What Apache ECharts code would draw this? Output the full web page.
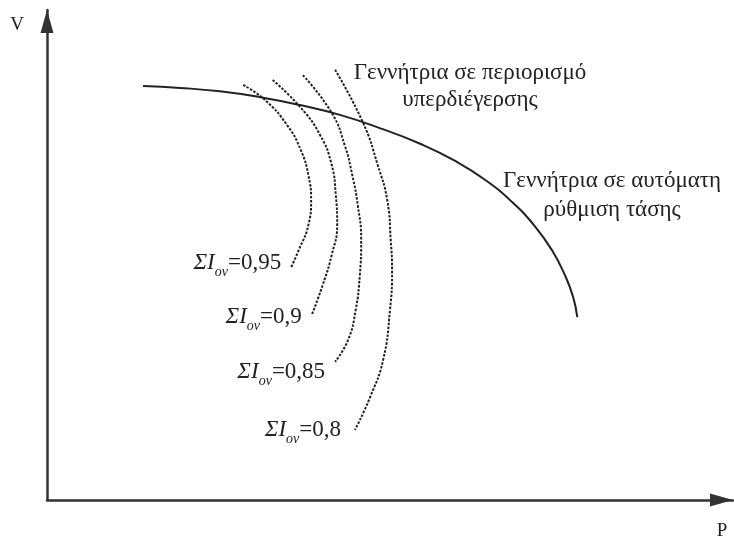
<!DOCTYPE html>
<html>
<head>
<meta charset="utf-8">
<script src="https://cdn.jsdelivr.net/npm/echarts@6/dist/echarts.min.js"></script>
<style>
  html, body { margin: 0; padding: 0; background: #ffffff; }
  #chart { width: 734px; height: 543px; }
</style>
</head>
<body>
<div id="chart"></div>
<script>
// Generator under automatic voltage regulation (V–P characteristic)
const avrP = [14.0, 19.4, 25.2, 31.1, 36.9, 42.7, 48.5, 54.4, 59.5, 63.9, 67.8, 71.1, 73.6, 75.5, 76.7, 77.3];
const avrV = [84.5, 84.1, 83.4, 82.2, 80.6, 78.6, 75.9, 72.7, 69.2, 65.3, 60.8, 55.9, 51.0, 45.9, 41.4, 37.3];

// Generator at over-excitation limit, one curve per total current level
const limitLevels = ['0,95', '0,9', '0,85', '0,8'];
const limitP095 = [28.6, 31.8, 35.0, 37.0, 38.1, 38.5, 38.1, 36.7, 35.6];
const limitV095 = [84.7, 81.6, 76.5, 71.4, 66.3, 61.2, 56.1, 51.0, 47.5];
const limitP090 = [32.9, 36.9, 39.8, 41.5, 42.1, 42.3, 41.5, 40.2, 38.6];
const limitV090 = [85.7, 80.2, 74.5, 68.4, 62.2, 56.1, 50.0, 43.9, 37.8];
const limitP085 = [37.3, 41.5, 43.4, 44.5, 45.3, 45.8, 45.6, 45.0, 43.9, 42.0];
const limitV085 = [86.7, 79.0, 72.4, 66.3, 60.2, 53.1, 45.9, 38.8, 32.7, 28.2];
const limitP080 = [42.0, 46.1, 48.2, 49.6, 50.1, 50.3, 50.0, 49.0, 47.1, 44.9];
const limitV080 = [87.8, 76.9, 68.4, 61.2, 53.1, 46.9, 38.8, 28.6, 21.0, 14.3];

const limitP = [limitP095, limitP090, limitP085, limitP080];
const limitV = [limitV095, limitV090, limitV085, limitV080];

// offset (px) of each ΣIον label relative to its curve's end
const labelNudge = [[0, -4], [0, 2], [0, 10], [-4, 0]];

const SERIF = '"Liberation Serif", "DejaVu Serif", serif';
const INK = '#222222';

const zip = (xs, ys) => xs.map((x, i) => [x, ys[i]]);

const limitSeries = limitLevels.map((lvl, k) => {
  const pts = zip(limitP[k], limitV[k]);
  const last = pts[pts.length - 1];
  return {
    type: 'line',
    name: 'ΣIον=' + lvl,
    data: pts,
    smooth: 0.5,
    showSymbol: false,
    silent: true,
    lineStyle: { color: INK, width: 2, type: [2.5, 1.5] },
    markPoint: {
      symbol: 'circle',
      symbolSize: 0,
      silent: true,
      data: [{ coord: last }],
      label: {
        show: true,
        position: 'left',
        distance: 10,
        offset: labelNudge[k],
        formatter: '{a|ΣI}{b|ον}{c|=' + lvl + '}',
        rich: {
          a: { fontFamily: SERIF, fontStyle: 'italic', fontSize: 23, color: INK, lineHeight: 33, verticalAlign: 'middle' },
          b: { fontFamily: SERIF, fontStyle: 'italic', fontSize: 14, color: INK, lineHeight: 33, verticalAlign: 'bottom' },
          c: { fontFamily: SERIF, fontSize: 23, color: INK, lineHeight: 33, verticalAlign: 'middle' }
        }
      }
    }
  };
});

// axis with a filled arrowhead whose tip sits on the axis end
const axisLine = {
  show: true,
  symbol: ['none', 'triangle'],
  symbolSize: [13, 23],
  symbolOffset: [0, -11.5],
  lineStyle: { color: '#333333', width: 2.5 }
};

const chart = echarts.init(document.getElementById('chart'), null, { renderer: 'canvas' });
chart.setOption({
  backgroundColor: '#ffffff',
  animation: false,
  grid: { left: 47, right: 1, top: 10, bottom: 43 },
  xAxis: {
    type: 'value', min: 0, max: 100,
    name: 'P', nameLocation: 'end', nameGap: -11,
    nameTextStyle: { fontFamily: SERIF, fontSize: 19, color: INK, align: 'center', verticalAlign: 'top', padding: [22, 0, 0, 0] },
    axisLine: axisLine,
    axisTick: { show: false }, axisLabel: { show: false }, splitLine: { show: false }
  },
  yAxis: {
    type: 'value', min: 0, max: 100,
    name: 'V', nameLocation: 'end', nameGap: -15,
    nameTextStyle: { fontFamily: SERIF, fontSize: 19, color: INK, align: 'right', verticalAlign: 'middle', padding: [0, 23, 0, 0] },
    axisLine: axisLine,
    axisTick: { show: false }, axisLabel: { show: false }, splitLine: { show: false }
  },
  graphic: [
    {
      type: 'text', x: 470, y: 59, silent: true,
      style: { text: 'Γεννήτρια σε περιορισμό\nυπερδιέγερσης', font: '23px ' + SERIF, fill: INK, textAlign: 'center', textVerticalAlign: 'top', lineHeight: 27 }
    },
    {
      type: 'text', x: 612, y: 166, silent: true,
      style: { text: 'Γεννήτρια σε αυτόματη\nρύθμιση τάσης', font: '23px ' + SERIF, fill: INK, textAlign: 'center', textVerticalAlign: 'top', lineHeight: 29 }
    }
  ],
  series: [
    {
      type: 'line',
      name: 'Αυτόματη ρύθμιση τάσης',
      data: zip(avrP, avrV),
      smooth: 0.5,
      showSymbol: false,
      silent: true,
      lineStyle: { color: INK, width: 2 }
    }
  ].concat(limitSeries)
});
</script>
</body>
</html>
